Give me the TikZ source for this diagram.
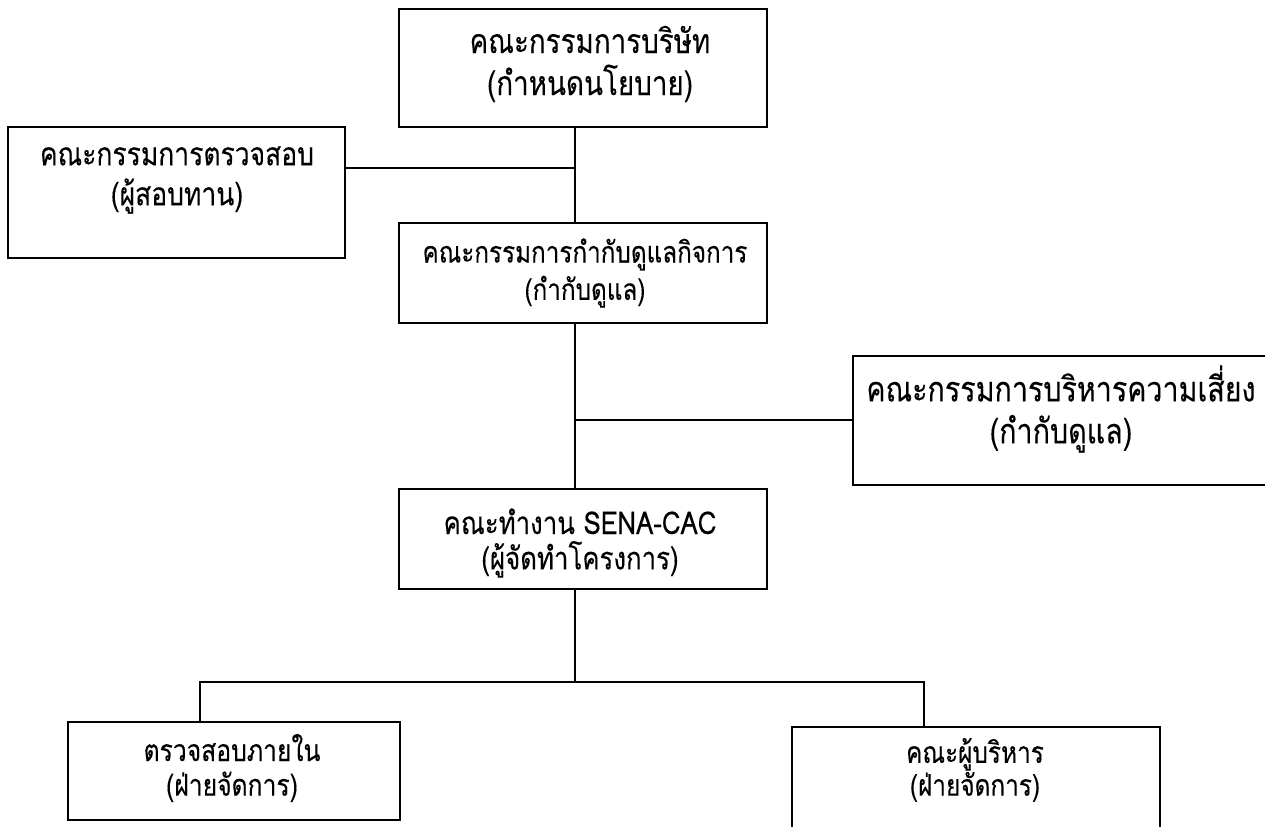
\documentclass[tikz,border=0pt]{standalone}
\usepackage{fontspec}
\setmainfont[Script=Thai,FakeBold=0.2,FakeStretch=0.82]{Loma}
\usetikzlibrary{fit}

\tikzset{
  box/.style={draw, line width=1.3pt, inner sep=0pt},
  txt/.style={align=center, inner sep=0pt},
  wire/.style={line width=1.3pt},
}

\begin{document}
\begin{tikzpicture}[x=0.75pt,y=-0.75pt]
\useasboundingbox (0,0) rectangle (1265,827);

\node[box, fit={(399,9) (767,127)}] (board) {};
\node[txt, font=\fontsize{25.4}{31.5}\selectfont] (board-t) at (590,64) {คณะกรรมการบริษัท\\(กำหนดนโยบาย)};

\node[box, fit={(8,127) (345,258)}] (audit) {};
\node[txt, font=\fontsize{24.2}{30}\selectfont] (audit-t) at (177,180) {คณะกรรมการตรวจสอบ\\(ผู้สอบทาน)};

\node[box, fit={(399,223) (767,323)}] (gov) {};
\node[txt, font=\fontsize{22.2}{28}\selectfont] (gov-t) at (585,273) {คณะกรรมการกำกับดูแลกิจการ\\(กำกับดูแล)};

\node[box, fit={(853,356) (1290,485)}] (risk) {};
\node[txt, font=\fontsize{26.2}{31.5}\selectfont] (risk-t) at (1061,409) {คณะกรรมการบริหารความเสี่ยง\\(กำกับดูแล)};

\node[box, fit={(399,489) (767,589)}] (sena) {};
\node[txt, font=\fontsize{23.6}{26.5}\selectfont] (sena-t) at (580,543) {คณะทำงาน SENA-CAC\\(ผู้จัดทำโครงการ)};

\node[box, fit={(68,722) (400,820)}] (intern) {};
\node[txt, font=\fontsize{22.6}{26}\selectfont] (intern-t) at (232,768) {ตรวจสอบภายใน\\(ฝ่ายจัดการ)};

\node[box, fit={(792,727) (1160,870)}] (exec) {};
\node[txt, font=\fontsize{22.3}{19}\selectfont] (exec-t) at (975,770) {คณะผู้บริหาร\\(ฝ่ายจัดการ)};

\coordinate (spine) at (575,0);
\coordinate (j1) at (575,168);
\coordinate (j2) at (575,420);
\coordinate (j3) at (575,682);
\coordinate (bl) at (200,682);
\coordinate (br) at (924,682);

\draw[wire] (board.south -| spine) -- (gov.north -| spine);
\draw[wire] (audit.east |- j1) -- (j1);
\draw[wire] (gov.south -| spine) -- (sena.north -| spine);
\draw[wire] (j2) -- (j2 -| risk.west);
\draw[wire] (sena.south -| spine) -- (j3);
\draw[wire] (bl |- intern.north) -- (bl) -- (br) -- (br |- exec.north);
\end{tikzpicture}
\end{document}
